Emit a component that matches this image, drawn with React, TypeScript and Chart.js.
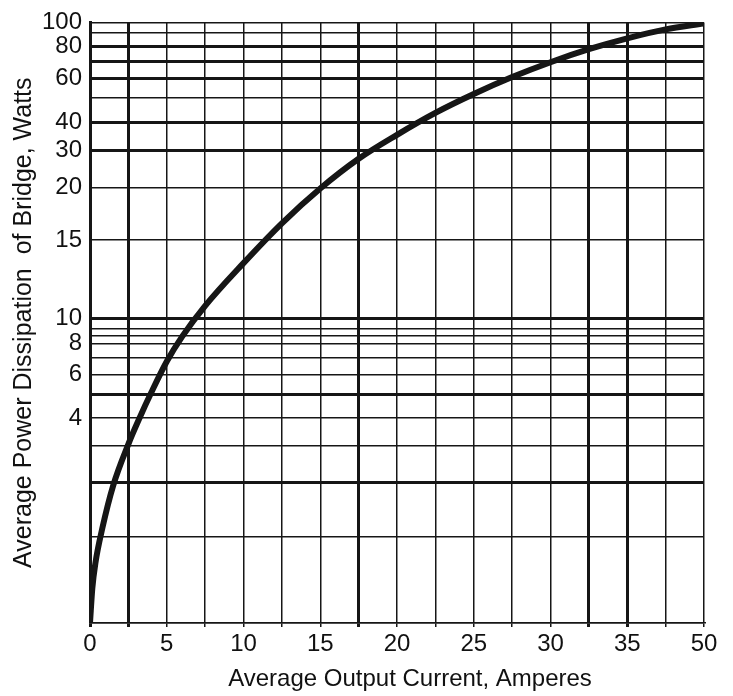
import React, { useEffect, useRef } from "react";
import { Chart, registerables, LinearScale } from "chart.js";

Chart.register(...registerables);

// ---------- data ----------
const currentAmps = [0, 0.15, 0.35, 0.8, 1.5, 2.5, 3.25, 4, 5, 6, 7.5, 10, 12.5, 15, 17.5, 20, 22.5, 25, 27.5, 30, 32.5, 35, 37.5, 40];
const powerWatts = [0, 0.4, 0.69, 1.15, 1.94, 3.07, 4.04, 5.1, 6.76, 8.87, 10.82, 13.54, 16.6, 19.9, 27.8, 35.7, 44, 52, 60.6, 69.4, 78, 85.7, 93, 99];

// ---------- x axis ----------
const xGridValues = [0, 2.5, 5, 7.5, 10, 12.5, 15, 17.5, 20, 22.5, 25, 27.5, 30, 32.5, 35, 37.5, 40];
const xLabelValues = [0, 5, 10, 15, 20, 25, 30, 35, 40];
const xTickLabels = ["0", "5", "10", "15", "20", "25", "30", "35", "50"];
const xHeavyValues = [0, 2.5, 17.5, 32.5, 35];
const xTitle = "Average Output Current, Amperes";

// ---------- y axis ----------
const yGridValues = [0, 1, 2, 3, 4, 5, 6, 7, 8, 9, 9.5, 10, 15, 20, 30, 40, 50, 60, 70, 80, 90, 100];
const yLabelValues = [4, 6, 8, 10, 15, 20, 30, 40, 60, 80, 100];
const yTickLabels = ["4", "6", "8", "10", "15", "20", "30", "40", "60", "80", "100"];
const yHeavyValues = [2, 5, 10, 30, 40, 60, 70, 80];
const yTitle = "Average Power Dissipation  of Bridge, Watts";
// shape of the (irregular) printed y scale: fraction of axis height at each grid value
const yGridFractions = [0, 0.144, 0.2334, 0.2947, 0.3411, 0.3808, 0.4139, 0.4421, 0.4652, 0.4785, 0.4901, 0.5066, 0.6374, 0.7252, 0.7864, 0.8328, 0.8742, 0.9073, 0.9354, 0.9603, 0.9834, 1];

function valueToFraction(v: number): number {
  const n = yGridValues.length;
  if (v <= yGridValues[0]) return yGridFractions[0];
  if (v >= yGridValues[n - 1]) {
    const a = yGridValues[n - 2], b = yGridValues[n - 1];
    const fa = yGridFractions[n - 2], fb = yGridFractions[n - 1];
    return fb + ((v - b) / (b - a)) * (fb - fa);
  }
  for (let i = 0; i < n - 1; i++) {
    const a = yGridValues[i], b = yGridValues[i + 1];
    if (v <= b) {
      const t = (v - a) / (b - a);
      return yGridFractions[i] + t * (yGridFractions[i + 1] - yGridFractions[i]);
    }
  }
  return 1;
}

function fractionToValue(f: number): number {
  const n = yGridFractions.length;
  if (f <= yGridFractions[0]) return yGridValues[0];
  for (let i = 0; i < n - 1; i++) {
    const a = yGridFractions[i], b = yGridFractions[i + 1];
    if (f <= b) {
      const t = (f - a) / (b - a);
      return yGridValues[i] + t * (yGridValues[i + 1] - yGridValues[i]);
    }
  }
  return yGridValues[n - 1];
}

class PiecewiseScale extends LinearScale {
  static id = "piecewise";
  static defaults = LinearScale.defaults;
  getPixelForValue(value: number) {
    if (value === null || value === undefined || isNaN(value as any)) return NaN;
    return this.getPixelForDecimal(valueToFraction(Number(value)));
  }
  getValueForPixel(pixel: number) {
    return fractionToValue(this.getDecimalForPixel(pixel));
  }
}
Chart.register(PiecewiseScale as any);

const FONT = "'Liberation Sans', Arial, sans-serif";
Chart.defaults.font.family = FONT;
Chart.defaults.color = "#111";

const INK = "#161616";
const THIN = 1.5;
const HEAVY = 3;

// x-axis title, drawn a little right of centre as in the original print
const xTitlePlugin = {
  id: "xTitlePlugin",
  afterDraw(chart: any) {
    const { ctx, chartArea, height } = chart;
    ctx.save();
    ctx.font = `24px ${FONT}`;
    ctx.fillStyle = "#111";
    ctx.textAlign = "center";
    ctx.textBaseline = "middle";
    ctx.fillText(xTitle, (chartArea.left + chartArea.right) / 2 + 13, height - 17);
    ctx.restore();
  },
};

export default function App() {
  const canvasRef = useRef<HTMLCanvasElement | null>(null);

  useEffect(() => {
    if (!canvasRef.current) return;
    const chart = new Chart(canvasRef.current, {
      type: "line",
      data: {
        datasets: [
          {
            data: currentAmps.map((x, i) => ({ x, y: powerWatts[i] })),
            borderColor: INK,
            borderWidth: 6,
            pointRadius: 0,
            fill: false,
            cubicInterpolationMode: "monotone",
            borderCapStyle: "round",
          },
        ],
      },
      options: {
        animation: false,
        responsive: true,
        maintainAspectRatio: false,
        layout: { padding: { left: 0, top: 19, right: 29, bottom: 0 } },
        plugins: { legend: { display: false }, tooltip: { enabled: false } },
        scales: {
          x: {
            type: "linear",
            min: 0,
            max: 40,
            afterBuildTicks: (s: any) => {
              s.ticks = xGridValues.map((v) => ({ value: v }));
            },
            afterFit: (s: any) => {
              s.height = 73;
            },
            grid: {
              color: INK,
              lineWidth: (c: any) => (xHeavyValues.includes(c.tick?.value) ? HEAVY : THIN),
              drawTicks: true,
              tickLength: 4,
            },
            border: { display: true, color: INK, width: THIN },
            ticks: {
              autoSkip: false,
              maxRotation: 0,
              minRotation: 0,
              padding: 3,
              color: "#111",
              font: { size: 24 },
              callback: (v: any) => {
                const i = xLabelValues.indexOf(Number(v));
                return i >= 0 ? xTickLabels[i] : "";
              },
            },
            title: { display: false },
          },
          y: {
            type: "piecewise" as any,
            min: 0,
            max: 100,
            afterBuildTicks: (s: any) => {
              s.ticks = yGridValues.map((v) => ({ value: v }));
            },
            afterFit: (s: any) => {
              s.width = 90;
            },
            grid: {
              color: INK,
              lineWidth: (c: any) => (yHeavyValues.includes(c.tick?.value) ? HEAVY : THIN),
              drawTicks: false,
            },
            border: { display: true, color: INK, width: HEAVY },
            ticks: {
              autoSkip: false,
              padding: 8,
              color: "#111",
              font: { size: 24 },
              callback: (v: any) => {
                const i = yLabelValues.indexOf(Number(v));
                return i >= 0 ? yTickLabels[i] : "";
              },
            },
            title: {
              display: true,
              text: yTitle,
              color: "#111",
              font: { size: 25 },
              padding: { top: 9, bottom: 0 },
            },
          },
        },
      } as any,
      plugins: [xTitlePlugin],
    });
    return () => chart.destroy();
  }, []);

  return (
    <div
      style={{
        position: "absolute",
        left: 0,
        top: 0,
        width: 733,
        height: 696,
        background: "#fff",
      }}
    >
      <canvas ref={canvasRef} />
    </div>
  );
}
